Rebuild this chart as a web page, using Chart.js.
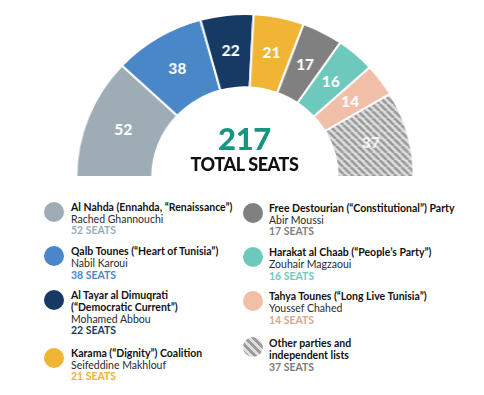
<!DOCTYPE html>
<html>
<head>
<meta charset="utf-8">
<script src="https://cdn.jsdelivr.net/npm/chart.js@4.4.1/dist/chart.umd.min.js"></script>
<style>
  html, body { margin:0; padding:0; background:#fff; }
  body { width:484px; height:395px; position:relative; overflow:hidden; font-family: Lato, "Open Sans", sans-serif; }
  #wrap { position:absolute; left:80.5px; top:13px; width:328px; height:165px; transform:scaleX(1.035); transform-origin:164px 0; }
  #center { position:absolute; left:0; width:489px; text-align:center; top:121px; }
  #total { font-weight:900; font-size:31px; color:#15967f; line-height:34px; letter-spacing:-0.3px; }
  #totlbl { font-weight:900; font-size:18px; color:#111; line-height:20px; margin-top:-1px; letter-spacing:-0.4px; }
  .col { position:absolute; display:flex; flex-direction:column; gap:9px; }
  .item { display:flex; align-items:flex-start; }
  .dot { width:20px; height:20px; border-radius:50%; flex:none; }
  .txt { font-size:10.5px; line-height:11.7px; color:#2a2a2a; }
  .ttl { font-weight:700; color:#111; }
  .seats { font-weight:700; }
</style>
</head>
<body>
<div id="wrap"><canvas id="c" width="328" height="165"></canvas></div>
<div id="center"><div id="total"></div><div id="totlbl">TOTAL SEATS</div></div>
<div class="col" id="colL" style="left:44px; top:202px;"></div>
<div class="col" id="colR" style="left:243px; top:203px;"></div>
<script>
// ---- data ----
const parties = [
  "Al Nahda (Ennahda, \u201CRenaissance\u201D)",
  "Qalb Tounes (\u201CHeart of Tunisia\u201D)",
  "Al Tayar al Dimuqrati|(\u201CDemocratic Current\u201D)",
  "Karama (\u201CDignity\u201D) Coalition",
  "Free Destourian (\u201CConstitutional\u201D) Party",
  "Harakat al Chaab (\u201CPeople\u2019s Party\u201D)",
  "Tahya Tounes (\u201CLong Live Tunisia\u201D)",
  "Other parties and|independent lists"
];
const leaders = [
  "Rached Ghannouchi", "Nabil Karoui", "Mohamed Abbou", "Seifeddine Makhlouf",
  "Abir Moussi", "Zouhair Magzaoui", "Youssef Chahed", ""
];
const seats = [52, 38, 22, 21, 17, 16, 14, 37];
const colors = ["#9dacb5", "#4a87c8", "#173a65", "#f1b535", "#7f807f", "#6dc9bb", "#f1bfa8", "hatch"];
const seatTextColors = ["#9aabb5", "#4a87c8", "#173a65", "#eeb02f", "#808080", "#6dc9bb", "#d9a68e", "#7a7a7a"];

// ---- hatch pattern ----
function makeHatch() {
  const s = 7;
  const cv = document.createElement('canvas');
  cv.width = s; cv.height = s;
  const g = cv.getContext('2d');
  g.fillStyle = '#dedede'; g.fillRect(0, 0, s, s);
  g.strokeStyle = '#9b9b9b'; g.lineWidth = 2.6;
  for (const x0 of [-s, 0, s]) { g.beginPath(); g.moveTo(x0, 0); g.lineTo(x0 + s, s); g.stroke(); }
  return g.createPattern(cv, 'repeat');
}
const ctx = document.getElementById('c').getContext('2d');
const hatch = makeHatch();
const fills = colors.map(c => c === 'hatch' ? hatch : c);

const total = seats.reduce((a, b) => a + b, 0);
document.getElementById('total').textContent = total;

const labelPlugin = {
  id: 'sliceLabels',
  afterDatasetsDraw(chart) {
    const c = chart.ctx;
    const meta = chart.getDatasetMeta(0);
    c.save();
    c.font = '900 15px Lato, "Open Sans", sans-serif';
    c.textAlign = 'center';
    c.textBaseline = 'middle';
    meta.data.forEach((el, i) => {
      const p = el.tooltipPosition();
      c.fillStyle = colors[i] === 'hatch' ? 'rgba(255,255,255,0.85)' : '#ffffff';
      c.fillText(String(seats[i]), p.x, p.y);
    });
    c.restore();
  }
};

new Chart(ctx, {
  type: 'doughnut',
  data: {
    labels: parties.map(p => p.replace('|', ' ')),
    datasets: [{
      data: seats,
      backgroundColor: fills,
      borderColor: '#ffffff',
      borderWidth: 2
    }]
  },
  options: {
    responsive: false,
    animation: false,
    rotation: -90,
    circumference: 180,
    cutout: '55%',
    layout: { padding: 0 },
    plugins: { legend: { display: false }, tooltip: { enabled: false } }
  },
  plugins: [labelPlugin]
});

// ---- HTML legend ----
function buildItem(i) {
  const item = document.createElement('div');
  item.className = 'item';
  const dot = document.createElement('div');
  dot.className = 'dot';
  if (colors[i] === 'hatch') {
    dot.style.background = 'repeating-linear-gradient(45deg, #dedede 0 2.8px, #9b9b9b 2.8px 5.6px)';
  } else {
    dot.style.background = colors[i];
  }
  const txt = document.createElement('div');
  txt.className = 'txt';
  const t = document.createElement('div');
  t.className = 'ttl';
  t.innerHTML = parties[i].split('|').join('<br>');
  txt.appendChild(t);
  if (leaders[i]) {
    const l = document.createElement('div');
    l.textContent = leaders[i];
    txt.appendChild(l);
  }
  const s = document.createElement('div');
  s.className = 'seats';
  s.style.color = seatTextColors[i];
  s.textContent = seats[i] + ' SEATS';
  txt.appendChild(s);
  item.appendChild(dot);
  item.appendChild(txt);
  return item;
}
const colL = document.getElementById('colL'), colR = document.getElementById('colR');
for (let i = 0; i < 4; i++) {
  const it = buildItem(i); it.querySelector('.txt').style.marginLeft = '7px';
  if (i === 3) it.style.marginTop = '2px';
  colL.appendChild(it);
}
for (let i = 4; i < 8; i++) {
  const it = buildItem(i); it.querySelector('.txt').style.marginLeft = '6px';
  if (i === 7) { it.style.marginTop = '3px'; it.querySelector('.dot').style.marginTop = '-1px'; }
  colR.appendChild(it);
}
</script>
</body>
</html>
